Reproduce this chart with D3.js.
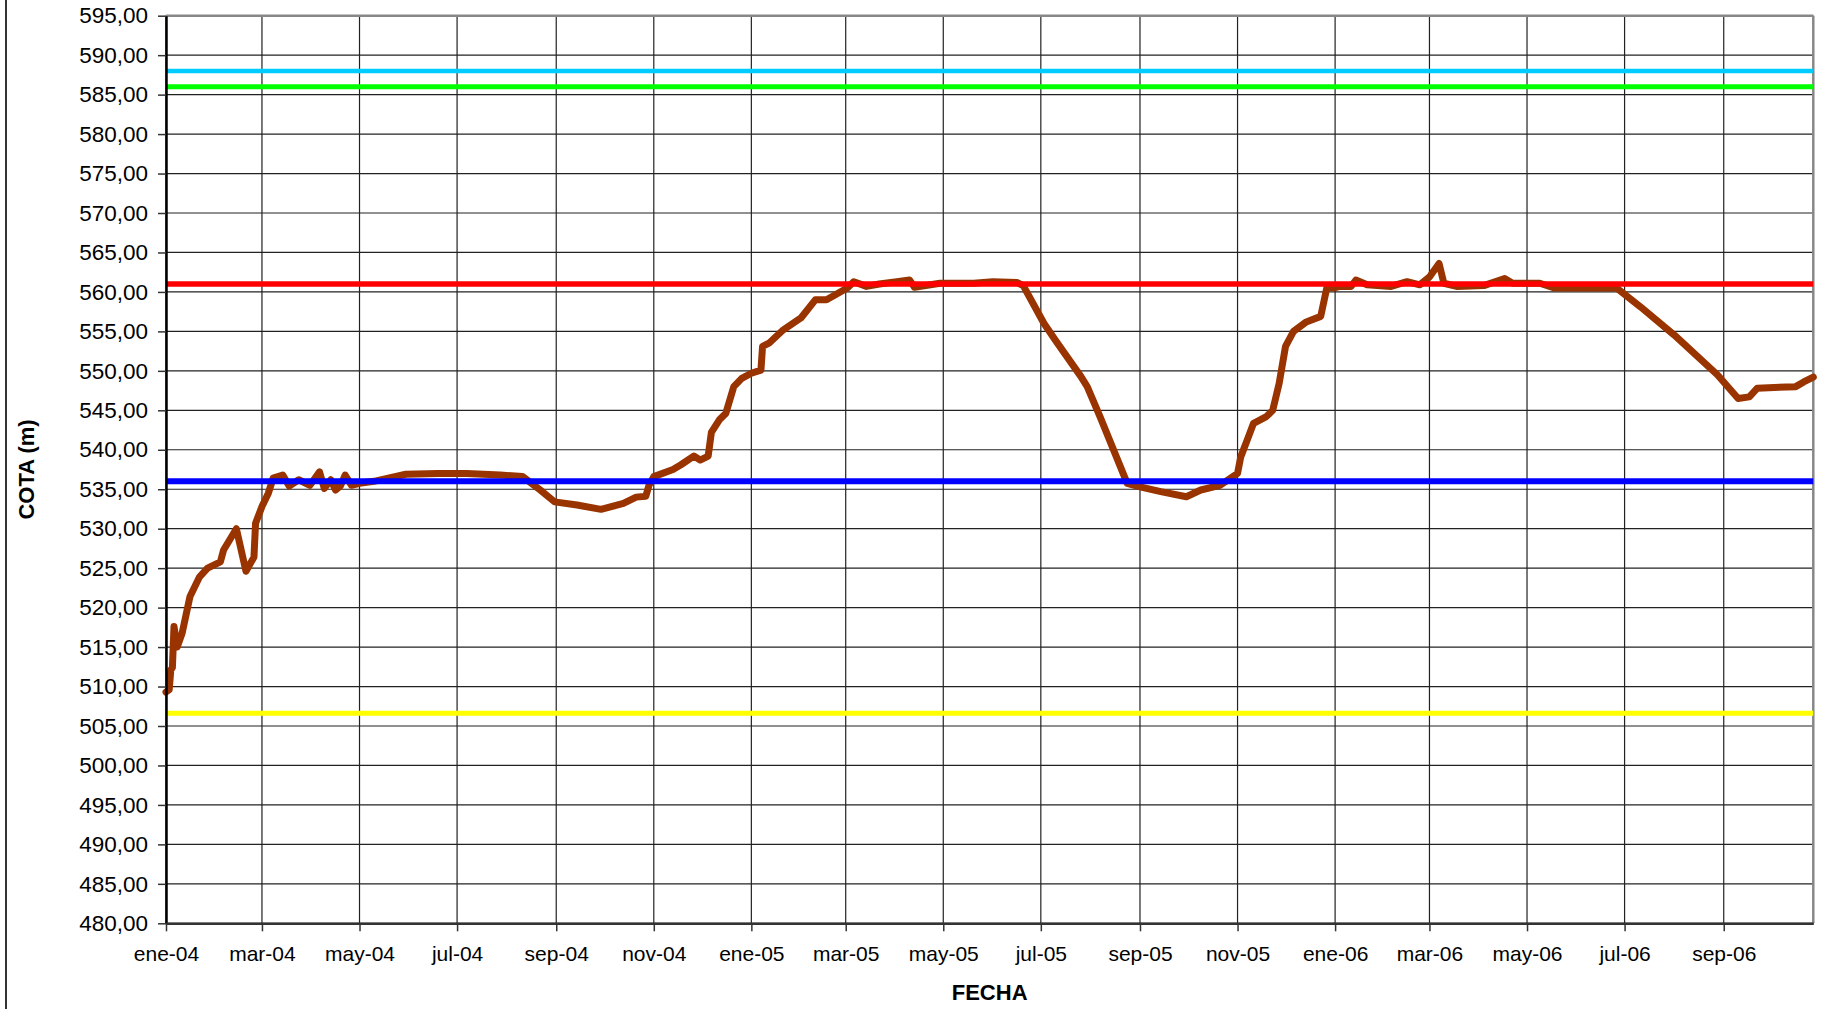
<!DOCTYPE html>
<html>
<head>
<meta charset="utf-8">
<script src="https://cdn.jsdelivr.net/npm/d3@7"></script>
<style>
  html, body { margin: 0; padding: 0; background: #fff; }
  svg { display: block; font-family: "Liberation Sans", Arial, sans-serif; }
</style>
</head>
<body>
<svg id="chart" width="1821" height="1009"></svg>
<script>
// ---- data ----
const dates = [
  "2004-01-01","2004-01-03","2004-01-04","2004-01-05","2004-01-06","2004-01-08","2004-01-11","2004-01-16",
  "2004-01-22","2004-01-27","2004-02-04","2004-02-06","2004-02-14","2004-02-20","2004-02-25","2004-02-26",
  "2004-03-01","2004-03-05","2004-03-08","2004-03-14","2004-03-18","2004-03-24","2004-03-31","2004-04-06",
  "2004-04-09","2004-04-13","2004-04-16","2004-04-19","2004-04-22","2004-04-26","2004-05-01","2004-05-10",
  "2004-05-30","2004-06-19","2004-07-07","2004-07-28","2004-08-11","2004-08-22","2004-08-31","2004-09-14",
  "2004-09-29","2004-10-13","2004-10-21","2004-10-27","2004-10-29","2004-11-01","2004-11-13","2004-11-18",
  "2004-11-26","2004-11-30","2004-12-05","2004-12-07","2004-12-12","2004-12-16","2004-12-21","2004-12-26",
  "2005-01-01","2005-01-07","2005-01-08","2005-01-12","2005-01-21","2005-02-01","2005-02-10","2005-02-17",
  "2005-03-02","2005-03-06","2005-03-14","2005-03-22","2005-04-02","2005-04-10","2005-04-13","2005-04-29",
  "2005-05-20","2005-06-01","2005-06-16","2005-06-20","2005-07-03","2005-07-10","2005-07-26","2005-07-30",
  "2005-08-07","2005-08-24","2005-09-01","2005-09-14","2005-09-30","2005-10-09","2005-10-21","2005-11-01",
  "2005-11-03","2005-11-07","2005-11-11","2005-11-19","2005-11-23","2005-11-27","2005-12-01","2005-12-06",
  "2005-12-10","2005-12-14","2005-12-23","2005-12-27","2005-12-31","2006-01-04","2006-01-11","2006-01-14",
  "2006-01-21","2006-02-05","2006-02-15","2006-02-23","2006-03-01","2006-03-07","2006-03-10","2006-03-18",
  "2006-04-04","2006-04-17","2006-04-22","2006-05-09","2006-05-18","2006-06-10","2006-06-26","2006-07-11",
  "2006-08-01","2006-08-28","2006-09-10","2006-09-17","2006-09-22","2006-10-16","2006-10-21","2006-10-27"
];
const cota = [
  509.3,509.6,512.1,512.4,517.6,515.0,516.7,521.4,
  523.9,525.0,525.8,527.3,530.0,524.6,526.4,530.7,
  532.8,534.5,536.4,536.8,535.4,536.2,535.5,537.2,
  535.1,536.2,534.9,535.4,536.8,535.5,535.75,536.0,
  536.9,537.0,537.0,536.8,536.6,534.9,533.4,533.0,
  532.45,533.2,534.0,534.1,535.5,536.6,537.5,538.1,
  539.2,538.7,539.2,542.2,543.8,544.6,548.0,549.05,
  549.7,550.1,553.1,553.5,555.2,556.7,559.0,559.0,
  560.5,561.3,560.7,561.0,561.3,561.5,560.6,561.1,
  561.1,561.3,561.2,560.8,556.0,553.9,549.3,548.0,
  544.2,535.75,535.3,534.7,534.05,534.9,535.5,537.0,
  539.1,541.2,543.35,544.2,545.0,548.4,553.1,555.0,
  555.6,556.2,556.9,560.7,560.5,560.7,560.7,561.5,
  560.9,560.7,561.3,560.9,561.9,563.6,561.1,560.7,
  560.8,561.7,561.1,561.1,560.5,560.5,560.5,558.1,
  554.55,549.5,546.5,546.7,547.8,548.0,548.6,549.2
];
// horizontal reference levels (m) and their colours, in drawing order
const refLevels = [588.0, 586.0, 561.0, 536.0, 506.6];
const refColors = ["#00CCFF", "#00FF00", "#FF0000", "#0000FF", "#FFFF00"];
const refWidths = [4.5, 5, 5.5, 6, 5];

const xStart = "2004-01-01", xEnd = "2006-10-27";
const tickDates = ["2004-01-01","2004-03-01","2004-05-01","2004-07-01","2004-09-01","2004-11-01",
                   "2005-01-01","2005-03-01","2005-05-01","2005-07-01","2005-09-01","2005-11-01",
                   "2006-01-01","2006-03-01","2006-05-01","2006-07-01","2006-09-01"];
const tickLabels = ["ene-04","mar-04","may-04","jul-04","sep-04","nov-04",
                    "ene-05","mar-05","may-05","jul-05","sep-05","nov-05",
                    "ene-06","mar-06","may-06","jul-06","sep-06"];
const yMin = 480, yMax = 595, yStep = 5;
const xTitle = "FECHA", yTitle = "COTA (m)";

// ---- layout ----
const W = 1821, H = 1009;
const m = { left: 166, top: 15.7, right: 7.7, bottom: 85.7 };
const iw = W - m.left - m.right, ih = H - m.top - m.bottom;
const parse = d3.utcParse("%Y-%m-%d");

const svg = d3.select("#chart");
const g = svg.append("g").attr("transform", `translate(${m.left},${m.top})`);

const x = d3.scaleUtc().domain([parse(xStart), parse(xEnd)]).range([0, iw]);
const y = d3.scaleLinear().domain([yMin, yMax]).range([ih, 0]);

const loc = d3.formatLocale({ decimal: ",", thousands: ".", grouping: [3], currency: ["", "€"] });
const fmt = loc.format(".2f");
const yTicks = d3.range(yMin, yMax + 0.001, yStep);
const xTicks = tickDates.map(parse);

// outer chart-area border (left edge visible)
svg.append("line").attr("x1", 6).attr("x2", 6).attr("y1", 0).attr("y2", H)
  .attr("stroke", "#333").attr("stroke-width", 2);

// gridlines
g.append("g").selectAll("line").data(yTicks).join("line")
  .attr("x1", 0).attr("x2", iw).attr("y1", d => y(d)).attr("y2", d => y(d))
  .attr("stroke", "#222").attr("stroke-width", 1.2);
g.append("g").selectAll("line").data(xTicks).join("line")
  .attr("x1", d => x(d)).attr("x2", d => x(d)).attr("y1", 0).attr("y2", ih)
  .attr("stroke", "#222").attr("stroke-width", 1.2);

// plot frame (top and right in grey)
g.append("line").attr("x1", 0).attr("x2", iw).attr("y1", 0).attr("y2", 0)
  .attr("stroke", "#888").attr("stroke-width", 2.5);
g.append("line").attr("x1", iw).attr("x2", iw).attr("y1", 0).attr("y2", ih)
  .attr("stroke", "#888").attr("stroke-width", 2.5);

// data line
const series = dates.map((d, i) => ({ date: parse(d), v: cota[i] }));
g.append("path").datum(series)
  .attr("fill", "none").attr("stroke", "#993300").attr("stroke-width", 7)
  .attr("stroke-linejoin", "round").attr("stroke-linecap", "round")
  .attr("d", d3.line().x(d => x(d.date)).y(d => y(d.v)));

// reference lines
g.append("g").selectAll("line").data(refLevels).join("line")
  .attr("x1", 0).attr("x2", iw).attr("y1", d => y(d)).attr("y2", d => y(d))
  .attr("stroke", (d, i) => refColors[i]).attr("stroke-width", (d, i) => refWidths[i]);

// axes
const yAxis = g.append("g")
  .call(d3.axisLeft(y).tickValues(yTicks).tickFormat(fmt).tickSize(8).tickSizeOuter(0).tickPadding(10));
yAxis.select(".domain").attr("stroke", "#000").attr("stroke-width", 2.5);
yAxis.selectAll(".tick line").attr("stroke", "#333").attr("stroke-width", 1.5);
yAxis.selectAll("text").attr("font-size", 22.5).attr("fill", "#000")
  .attr("font-family", "Liberation Sans, Arial, sans-serif");

const xAxis = g.append("g").attr("transform", `translate(0,${ih})`)
  .call(d3.axisBottom(x).tickValues(xTicks).tickFormat((d, i) => tickLabels[i]).tickSize(8).tickSizeOuter(0).tickPadding(15));
xAxis.select(".domain").attr("stroke", "#333").attr("stroke-width", 2.5);
xAxis.selectAll(".tick line").attr("stroke", "#333").attr("stroke-width", 1.5);
xAxis.selectAll("text").attr("font-size", 21).attr("fill", "#000")
  .attr("font-family", "Liberation Sans, Arial, sans-serif");

// titles
svg.append("text").attr("x", m.left + iw / 2).attr("y", 1000)
  .attr("text-anchor", "middle").attr("font-size", 22).attr("font-weight", "bold")
  .text(xTitle);
svg.append("text")
  .attr("transform", `translate(34,${m.top + ih / 2}) rotate(-90)`)
  .attr("text-anchor", "middle").attr("font-size", 22).attr("font-weight", "bold")
  .text(yTitle);
</script>
</body>
</html>
